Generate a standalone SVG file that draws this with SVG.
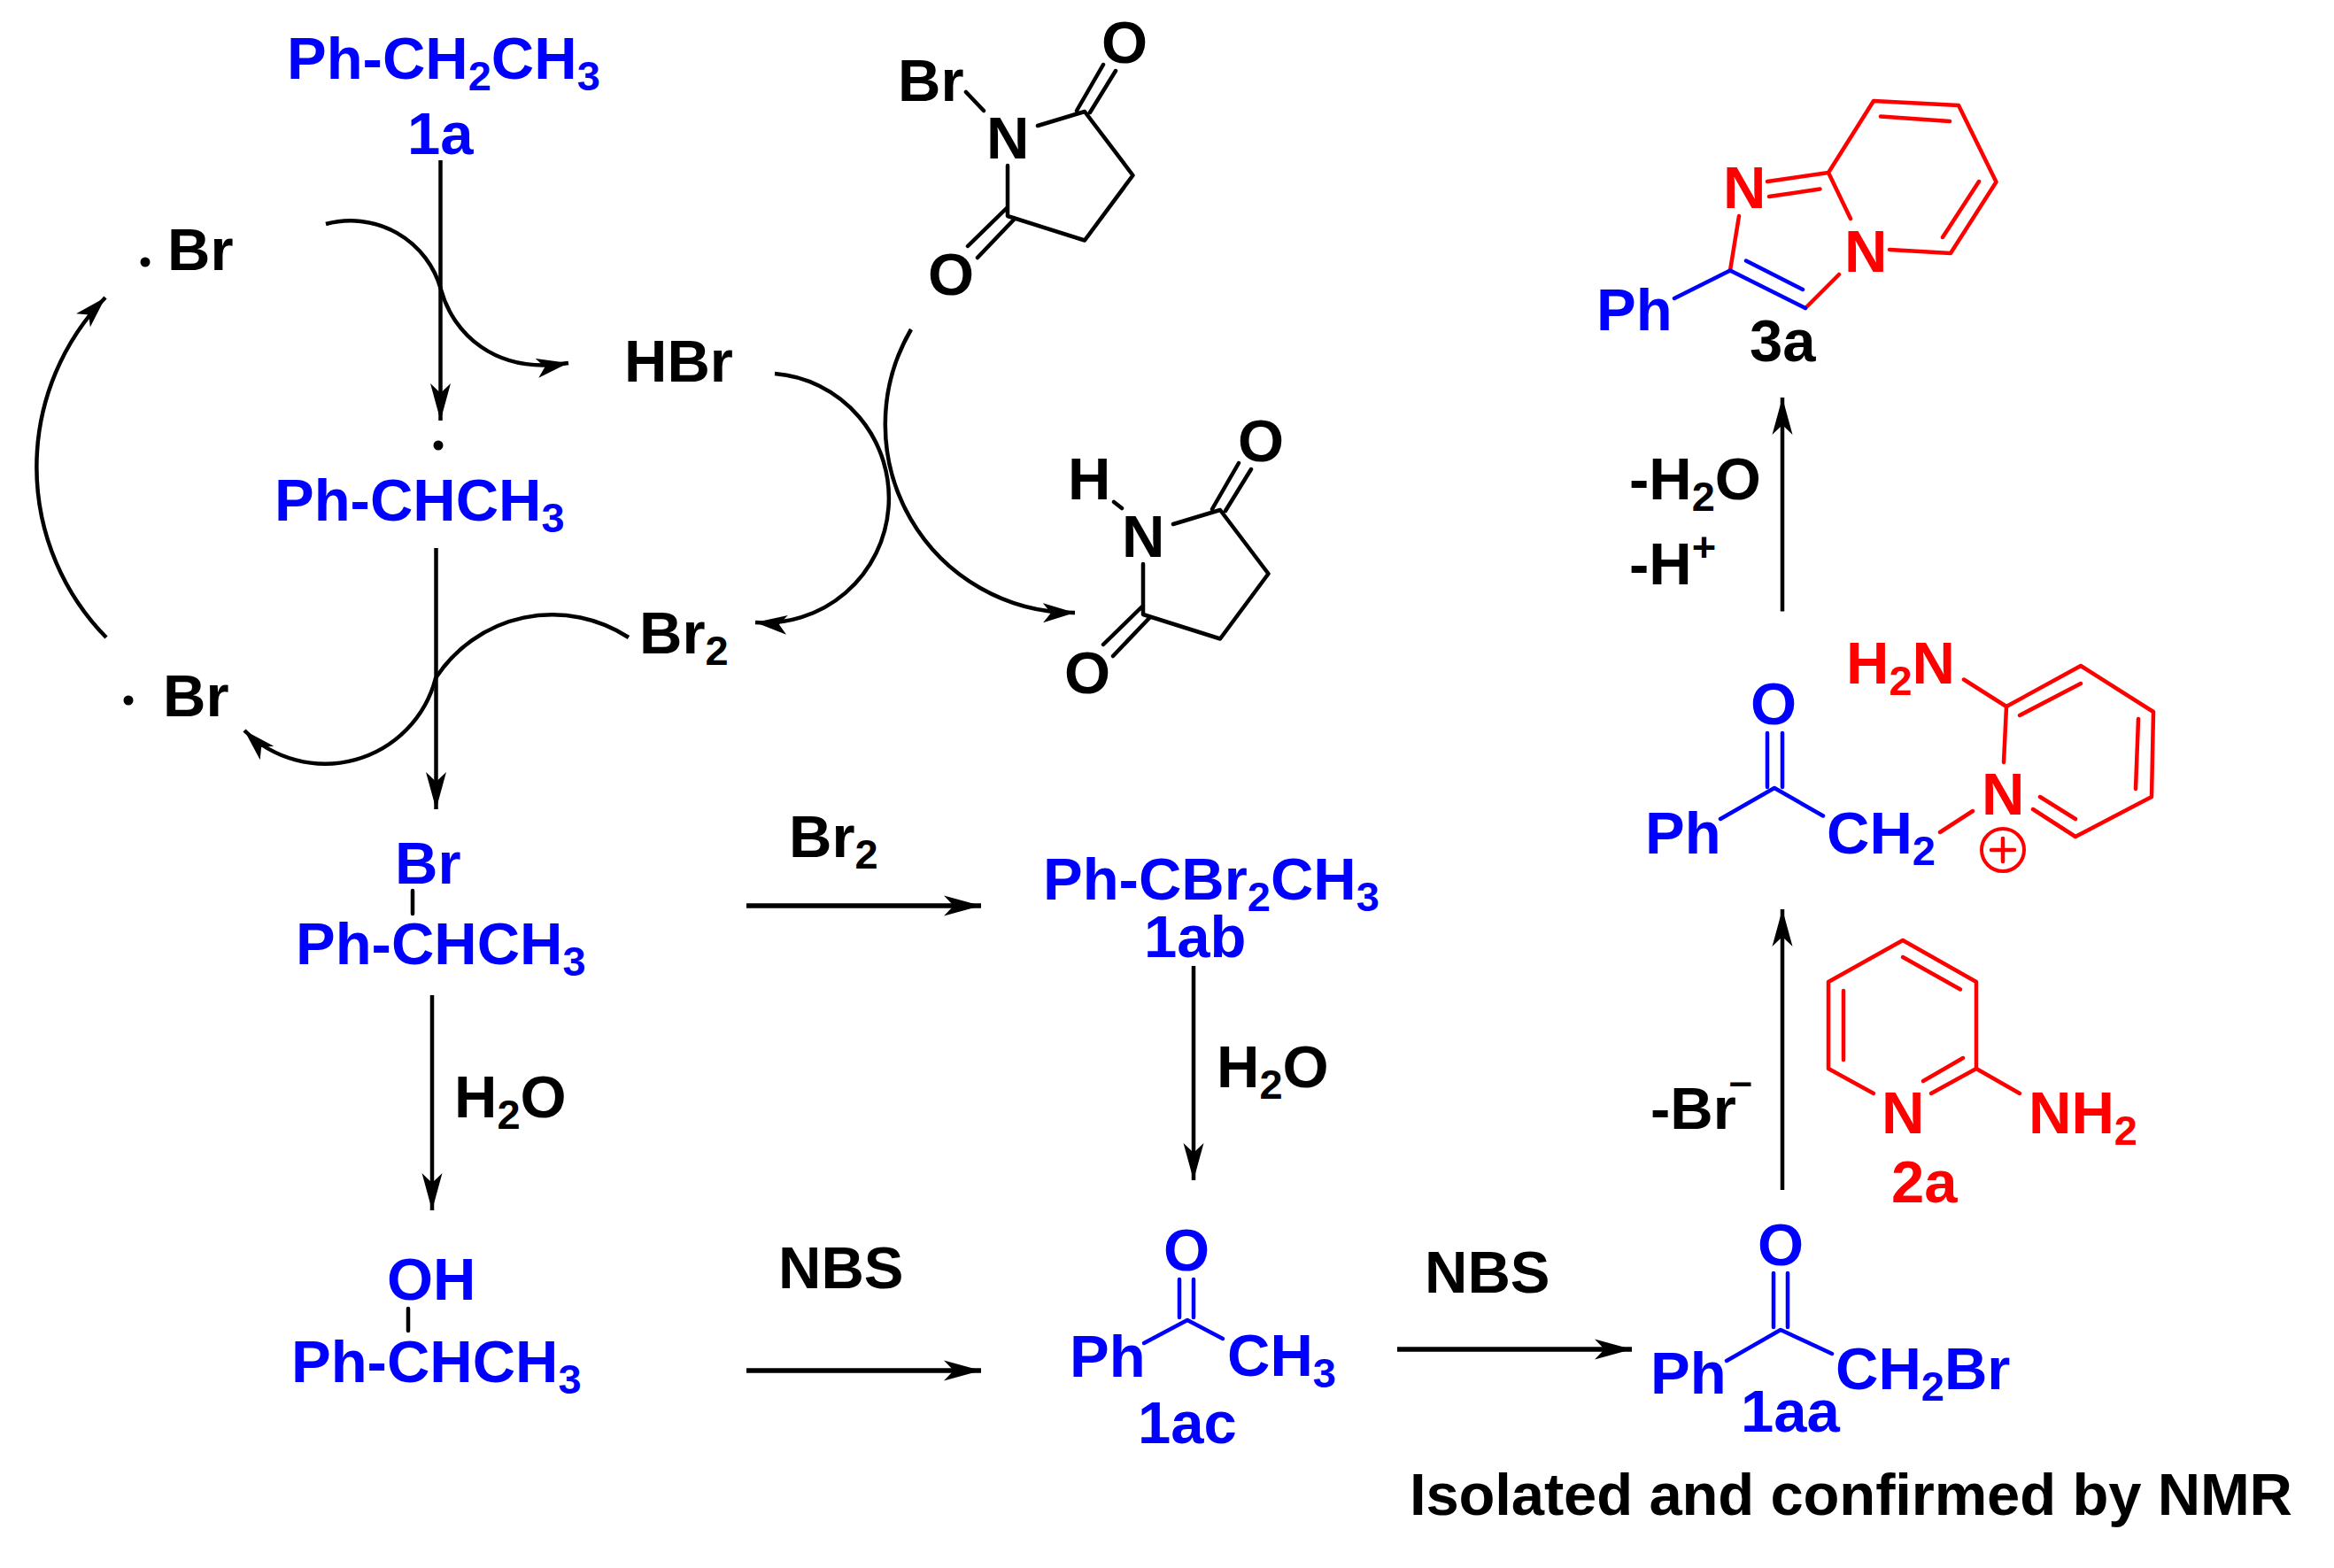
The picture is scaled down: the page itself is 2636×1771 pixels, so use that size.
<svg xmlns="http://www.w3.org/2000/svg" width="2636" height="1771" viewBox="0 0 2636 1771">
<defs>
<style>
text{font-family:"Liberation Sans",Arial,sans-serif;font-weight:700;font-size:67px}
.s{font-size:47px}
.k{fill:#000}.b{fill:#00f}.r{fill:#f00}
.lk,.lb,.lr{fill:none;stroke-width:4.5;stroke-linecap:round;stroke-linejoin:round}
.lk{stroke:#000}.lb{stroke:#00f}.lr{stroke:#f00}
.a{fill:none;stroke:#000;stroke-width:4.5}
.h{stroke-width:5.5}
.dot{fill:#000}
</style>
<marker id="ah" markerUnits="userSpaceOnUse" markerWidth="44" markerHeight="26" refX="42" refY="13" orient="auto"><path d="M0,1.5L42,13L0,24.5L11,13Z" fill="#000"/></marker>
<marker id="ac" markerUnits="userSpaceOnUse" markerWidth="38" markerHeight="24" refX="36" refY="12" orient="auto"><path d="M0,1L36,12L0,23L9,12Z" fill="#000"/></marker>
</defs>
<g id="connectors">
<path class="a" marker-end="url(#ah)" d="M497.5,181V475"/>
<path class="a" marker-end="url(#ah)" d="M492.5,619V914"/>
<path class="a" marker-end="url(#ah)" d="M488,1124V1367"/>
<path class="a" marker-end="url(#ah)" d="M1348,1091V1333"/>
<path class="a" marker-end="url(#ah)" d="M2013,1344V1027"/>
<path class="a" marker-end="url(#ah)" d="M2013,690.5V449"/>
<path class="a h" marker-end="url(#ah)" d="M843,1023H1108"/>
<path class="a h" marker-end="url(#ah)" d="M843,1548H1108"/>
<path class="a h" marker-end="url(#ah)" d="M1578,1524H1843"/>
<path class="a" marker-end="url(#ac)" d="M368,253A106,106 0 0 1 498,327C511,375 558,424 642,410"/>
<path class="a" marker-end="url(#ac)" d="M875,422A139,140 0 0 1 853,703"/>
<path class="a" marker-end="url(#ac)" d="M1029,372A212.5,212.5 0 0 0 1214,692"/>
<path class="a" marker-end="url(#ac)" d="M710,720A157,157 0 0 0 492,766A129,129 0 0 1 276,825"/>
<path class="a" marker-end="url(#ac)" d="M120,720A275,275 0 0 1 119,336"/>
</g>
<g id="node-1a">
<text class="b" x="324" y="89">Ph-CH<tspan class="s" dy="13">2</tspan><tspan dy="-13">CH</tspan><tspan class="s" dy="13">3</tspan></text>
<text class="b" x="460" y="174">1a</text>
</g>
<g id="node-br-top"><circle class="dot" cx="164" cy="296" r="5.5"/><text class="k" x="189" y="305">Br</text></g>
<g id="node-radical"><circle class="dot" cx="495" cy="503" r="5.5"/>
<text class="b" x="310" y="588">Ph-CHCH<tspan class="s" dy="13">3</tspan></text></g>
<g id="node-hbr"><text class="k" x="705" y="431">HBr</text></g>
<g id="node-br2"><text class="k" x="722" y="738">Br<tspan class="s" dy="13">2</tspan></text></g>
<g id="node-br-bottom"><circle class="dot" cx="145" cy="791" r="5.5"/><text class="k" x="184" y="809">Br</text></g>
<g id="node-nbs">
<text class="k" x="1014" y="114">Br</text><text class="k" x="1114" y="179">N</text><text class="k" x="1244" y="71">O</text><text class="k" x="1048" y="333">O</text>
<path class="lk" d="M1091,104L1111,125M1172,142L1225,126L1279.5,198L1225,271.5L1138,244V187M1216,125L1246,73M1231,127L1260,80M1138,234L1093,278M1146,247L1104,291"/>
</g>
<g id="node-nhs">
<text class="k" x="1206" y="564">H</text><text class="k" x="1267" y="629">N</text><text class="k" x="1398" y="521">O</text><text class="k" x="1202" y="783">O</text>
<path class="lk" d="M1258,567L1267,574M1325,592L1378,576L1432.5,648L1378,721.5L1291,694V637M1369,575L1399,523M1384,577L1413,530M1291,684L1246,728M1299,697L1257,741"/>
</g>
<g id="node-bromide">
<text class="b" x="446" y="998">Br</text><path class="lk" d="M466,1006V1032"/>
<text class="b" x="334" y="1089">Ph-CHCH<tspan class="s" dy="13">3</tspan></text>
</g>
<g id="node-alcohol">
<text class="b" x="437" y="1468">OH</text><path class="lk" d="M461,1478V1503"/>
<text class="b" x="329" y="1561">Ph-CHCH<tspan class="s" dy="13">3</tspan></text>
</g>
<g id="label-br2"><text class="k" x="891" y="968">Br<tspan class="s" dy="13">2</tspan></text></g>
<g id="label-h2o-1"><text class="k" x="513" y="1262">H<tspan class="s" dy="13">2</tspan><tspan dy="-13">O</tspan></text></g>
<g id="label-nbs-1"><text class="k" x="879" y="1455">NBS</text></g>
<g id="node-1ab">
<text class="b" x="1178" y="1016">Ph-CBr<tspan class="s" dy="13">2</tspan><tspan dy="-13">CH</tspan><tspan class="s" dy="13">3</tspan></text>
<text class="b" x="1292" y="1081">1ab</text>
</g>
<g id="label-h2o-2"><text class="k" x="1374" y="1228">H<tspan class="s" dy="13">2</tspan><tspan dy="-13">O</tspan></text></g>
<g id="node-1ac">
<text class="b" x="1314" y="1435">O</text>
<path class="lb" d="M1332,1445V1488M1348,1445V1488M1292,1517L1341,1491L1381,1512"/>
<text class="b" x="1208" y="1555">Ph</text>
<text class="b" x="1386" y="1554">CH<tspan class="s" dy="13">3</tspan></text>
<text class="b" x="1285" y="1630">1ac</text>
</g>
<g id="label-nbs-2"><text class="k" x="1609" y="1460">NBS</text></g>
<g id="node-1aa">
<text class="b" x="1985" y="1429">O</text>
<path class="lb" d="M2003,1438V1499M2019,1438V1499M1950,1537L2011,1502L2069,1529"/>
<text class="b" x="1864" y="1574">Ph</text>
<text class="b" x="2073" y="1569">CH<tspan class="s" dy="13">2</tspan><tspan dy="-13">Br</tspan></text>
<text class="b" x="1966" y="1617">1aa</text>
<text class="k" x="1592" y="1711" textLength="997" lengthAdjust="spacing">Isolated and confirmed by NMR</text>
</g>
<g id="label-brminus"><text class="k" x="1864" y="1275">-Br<tspan class="s" dx="-8" dy="-38">–</tspan></text></g>
<g id="node-2a">
<path class="lr" d="M2116,1235L2065,1207V1109L2149,1062L2232,1109V1207L2181,1235M2149,1081L2214,1117.5M2082,1119V1197M2172,1221L2217,1195M2232,1207L2281,1235"/>
<text class="r" x="2125" y="1280">N</text>
<text class="r" x="2291" y="1280">NH<tspan class="s" dy="13">2</tspan></text>
<text class="r" x="2136" y="1358">2a</text>
</g>
<g id="node-intermediate">
<text class="b" x="1977" y="818">O</text>
<path class="lb" d="M1996,828V889M2013,828V889M1943,925L2004,890L2059,921.5"/>
<text class="b" x="1858" y="964">Ph</text>
<text class="b" x="2063" y="964">CH<tspan class="s" dy="13">2</tspan></text>
<path class="lr" d="M2191,940L2228,916M2218,767.5L2266,798L2350,752L2432,804L2430,900L2344,945L2296,914M2266,798L2263,861M2281,808L2350,772M2415,812L2412,891M2304,900L2344,925"/>
<text class="r" x="2238" y="920">N</text>
<text class="r" x="2085" y="772">H<tspan class="s" dy="13">2</tspan><tspan dy="-13">N</tspan></text>
<circle cx="2262" cy="960" r="24" fill="none" stroke="#f00" stroke-width="4"/>
<path class="lr" d="M2262,947V973M2249,960H2275"/>
</g>
<g id="label-h2o-3"><text class="k" x="1840" y="564">-H<tspan class="s" dy="13">2</tspan><tspan dy="-13">O</tspan></text>
<text class="k" x="1840" y="660">-H<tspan class="s" dy="-26">+</tspan></text></g>
<g id="node-3a">
<path class="lr" d="M2065,195L2116,114L2212,119L2254.5,205.5L2203,286L2134,282M2065,195L2090,247M1996,205L2065,195M1998,222L2055.5,213.5M1964,244L1954,305.5M2039,348L2077,310M2124,131.5L2202,137M2235,205L2194,268"/>
<path class="lb" d="M1891,337L1954,305.5L2039,348M1972,294.5L2036,327"/>
<text class="r" x="1946" y="235">N</text>
<text class="r" x="2083" y="307">N</text>
<text class="b" x="1803" y="373">Ph</text>
<text class="k" x="1976" y="408">3a</text>
</g>
</svg>
